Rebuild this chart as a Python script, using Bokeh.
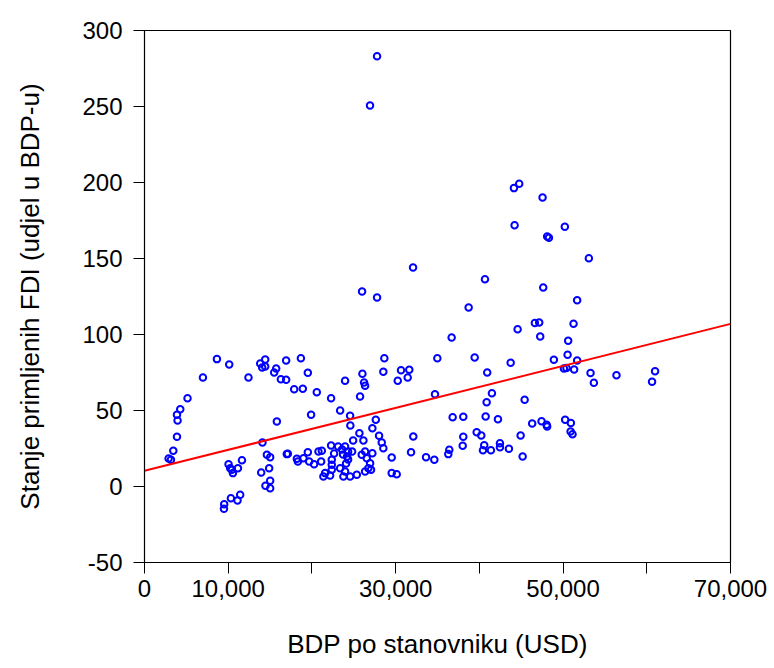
from bokeh.plotting import figure
from bokeh.models import FixedTicker
from bokeh.embed import file_html
from bokeh.resources import INLINE

# GDP per capita (USD) and FDI stock (% of GDP)
gdp_a = [8650, 10120, 6980, 12420, 13820, 14420, 14420, 14060, 15730, 15490, 16920, 16290, 16920,
         5140, 4270, 3880, 3950, 15810, 3880, 3440, 2880, 3160, 14090, 14620, 15010, 17000,
         10040, 10240, 10560, 10440, 11160, 11640, 13940, 14890, 15010, 14450, 15010,
         10320, 11430, 11110, 9520, 9490]
fdi_a = [83.8, 80.3, 71.7, 71.7, 80.9, 83.6, 78.9, 78.3, 77.6, 75.0, 82.9, 70.6, 70.2,
         58.1, 50.9, 47.2, 43.4, 42.8, 32.7, 23.5, 18.4, 17.6, 29.0, 20.9, 19.3, 21.3,
         14.7, 12.0, 8.8, 11.0, 12.0, 17.3, 9.2, 12.0, 3.8, 0.5, -1.1,
         -7.7, -5.5, -9.2, -11.6, -14.7]

gdp_b = [18680, 19510, 17880, 18910, 20580, 22290, 23960, 26030, 26230, 26350, 25750, 28650,
         28530, 30640, 31630, 30250, 31440, 34980, 36690, 34700, 36810]
fdi_b = [84.4, 74.8, 64.0, 64.3, 62.0, 58.1, 69.6, 74.2, 68.4, 66.3, 59.2, 84.4,
         75.5, 76.5, 76.8, 69.6, 71.7, 84.4, 98.0, 60.7, 45.6]

gdp_c = [19900, 23370, 24560, 24590, 27630, 27220, 25670, 24920, 26150, 28020, 28340, 28530,
         32110, 31840, 29530, 33630, 34620, 36410, 36290,
         17120, 18200, 18320, 18990, 19510, 19670, 20260, 20780, 21180, 21100,
         22290, 22650, 23130, 23600, 23960, 24320, 24800, 24200, 23720, 24320, 24080,
         22370, 22370, 22370, 21580, 21370, 22170, 23370, 23960, 23760, 24560, 25360,
         25950, 26350, 26550, 27220, 26950, 26740, 26350, 27060, 29530, 30130]
fdi_c = [47.2, 50.0, 46.5, 40.1, 43.9, 38.4, 35.1, 30.3, 30.3, 33.4, 29.0, 25.2,
         32.9, 22.6, 19.1, 19.3, 17.6, 24.1, 21.3,
         21.5, 18.2, 16.5, 18.6, 22.6, 16.5, 14.7, 23.0, 23.5, 16.5,
         27.0, 21.7, 26.3, 24.3, 26.3, 23.0, 23.0, 19.7, 21.1, 17.8, 15.1,
         17.6, 14.3, 11.0, 8.8, 6.6, 7.2, 12.0, 9.9, 6.6, 6.6, 7.7,
         20.9, 23.0, 18.6, 21.9, 15.3, 12.0, 9.9, 11.0, 8.8, 8.1]

gdp_d = [27780, 26940, 25990, 27780, 32080]
fdi_d = [283.0, 250.7, 128.3, 124.4, 144.1]

gdp_e = [44130, 44760, 47550, 44210, 50210, 48100, 48310, 53080, 40670, 47630,
         38720, 51680, 46630, 47150, 44570, 51250, 47270, 50610, 39440, 43740,
         40940, 50540, 48900, 51680, 50100, 50400, 51320, 53280, 53680, 56380,
         60990, 60630, 41500, 40870, 45410, 38080, 40750, 42220, 46310, 47430,
         48030, 48100, 50250, 50930, 50900, 51130, 39680, 40230, 38080, 38010,
         44930, 40580, 40430, 41380, 42460, 42460, 43530, 45170]
fdi_e = [196.3, 199.2, 190.2, 171.9, 170.9, 164.5, 163.6, 150.2, 136.4, 130.9,
         117.8, 122.6, 107.5, 107.9, 103.5, 107.1, 98.7, 95.9, 84.9, 81.4,
         75.0, 86.7, 83.4, 82.9, 77.6, 78.0, 77.0, 74.6, 68.2, 73.2,
         75.9, 68.9, 61.4, 55.5, 57.0, 45.9, 46.1, 44.3, 41.5, 43.0,
         40.6, 39.5, 43.9, 41.7, 36.2, 34.4, 35.7, 33.6, 32.7, 26.8,
         33.6, 27.2, 23.9, 23.9, 28.5, 25.9, 24.8, 19.7]

gdp = gdp_a + gdp_b + gdp_c + gdp_d + gdp_e
fdi = fdi_a + fdi_b + fdi_c + fdi_d + fdi_e

# fitted regression line, read at the ends of the axis
trend_x = [0, 70000]
trend_y = [10.3, 107.0]

x_ticks = [0, 10000, 20000, 30000, 40000, 50000, 60000, 70000]
x_labels = ["0", "10,000", "", "30,000", "", "50,000", "", "70,000"]
y_ticks = [-50, 0, 50, 100, 150, 200, 250, 300]

FONT = "Liberation Sans"

p = figure(width=774, height=668, x_range=(0, 70000), y_range=(-50, 300),
           output_backend="svg", toolbar_location=None,
           min_border_left=144, min_border_right=44, min_border_top=30, min_border_bottom=106)
p.grid.visible = False
p.outline_line_color = "black"
p.outline_line_width = 1.2
p.background_fill_color = "white"

p.scatter(gdp, fdi, marker="circle", size=6.5, fill_color=None, line_color="#0000FF", line_width=2)
p.line(trend_x, trend_y, line_color="#FF0000", line_width=2)

for ax in (p.xaxis[0], p.yaxis[0]):
    ax.axis_line_color = "black"
    ax.major_tick_line_color = "black"
    ax.minor_tick_line_color = None
    ax.major_tick_out = 11
    ax.major_tick_in = 0
    ax.major_label_text_font = FONT
    ax.major_label_text_font_size = "24px"
    ax.major_label_text_color = "black"
    ax.axis_label_text_font = FONT
    ax.axis_label_text_font_size = "26px"
    ax.axis_label_text_font_style = "normal"
    ax.axis_label_text_color = "black"

p.xaxis.ticker = FixedTicker(ticks=x_ticks)
p.xaxis.major_label_overrides = {t: l for t, l in zip(x_ticks, x_labels)}
p.xaxis.major_label_standoff = 6
p.xaxis.axis_label = "BDP po stanovniku (USD)"
p.xaxis.axis_label_standoff = 29

p.yaxis.ticker = FixedTicker(ticks=y_ticks)
p.yaxis.major_label_overrides = {t: str(t) for t in y_ticks}
p.yaxis.major_label_standoff = 11
p.yaxis.axis_label = "Stanje primljenih FDI (udjel u BDP-u)"
p.yaxis.axis_label_standoff = 34

open("out.html", "w").write(file_html(p, INLINE))
